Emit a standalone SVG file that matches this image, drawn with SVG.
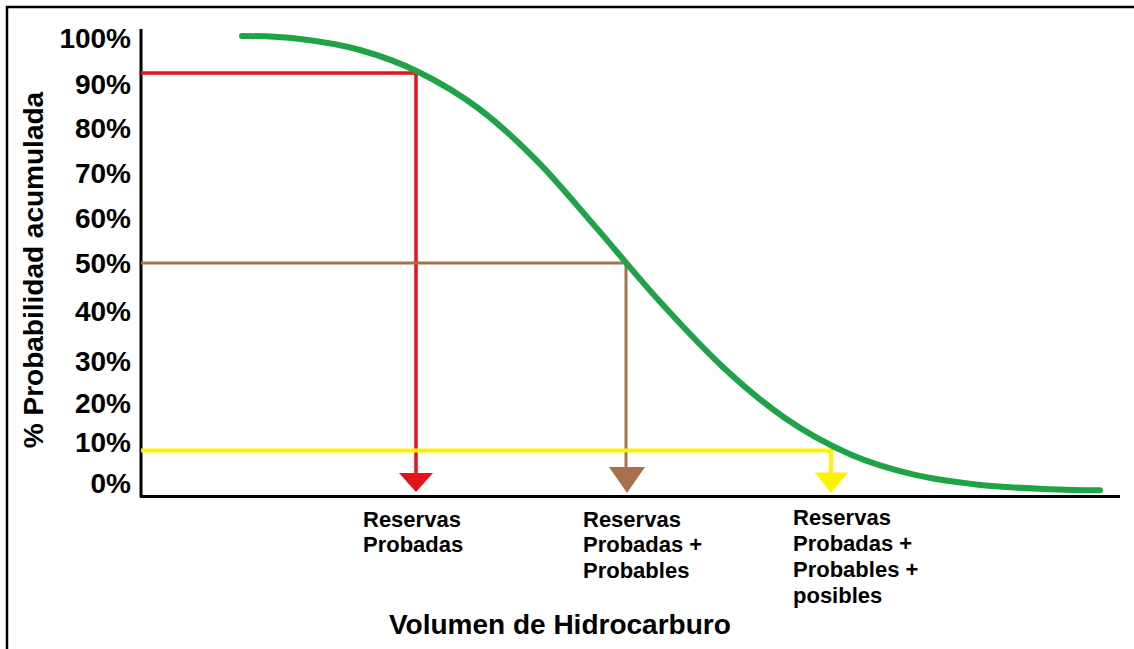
<svg xmlns="http://www.w3.org/2000/svg" width="1134" height="649" viewBox="0 0 1134 649">
<style>
.t{font-family:"Liberation Sans",Arial,sans-serif;font-weight:bold;fill:#000}
.tick{font-size:28px;text-anchor:end}
.lbl{font-size:22px}
.ax{stroke:#000;stroke-width:3;fill:none}
</style>
<rect width="1134" height="649" fill="#fff"/>
<g id="frame">
<path d="M7,649 V7 H1134" fill="none" stroke="#000" stroke-width="2.5"/>
</g>
<g id="axes">
<line class="ax" x1="141" y1="29" x2="141" y2="497"/>
<line class="ax" x1="140" y1="496.5" x2="1120" y2="496.5"/>
</g>
<g id="ticks" class="t tick">
<text x="131" y="48">100%</text>
<text x="131" y="94">90%</text>
<text x="131" y="138">80%</text>
<text x="131" y="183">70%</text>
<text x="131" y="228">60%</text>
<text x="131" y="273">50%</text>
<text x="131" y="321">40%</text>
<text x="131" y="371">30%</text>
<text x="131" y="413">20%</text>
<text x="131" y="452">10%</text>
<text x="131" y="493">0%</text>
</g>
<g id="ytitle">
<text class="t" font-size="28" text-anchor="middle" transform="translate(43,270) rotate(-90)">% Probabilidad acumulada</text>
</g>
<g id="connectors">
<g id="red">
<path d="M141,73 H416 V475" fill="none" stroke="#e5141c" stroke-width="3.5"/>
<polygon points="399,473 433,473 416,492" fill="#e5141c"/>
</g>
<g id="brown">
<path d="M141,263 H626 V470" fill="none" stroke="#a8704c" stroke-width="3"/>
<polygon points="609,467 645,467 627,493" fill="#a8704c"/>
</g>
<g id="yellow">
<path d="M141,450.5 H831 V475" fill="none" stroke="#fff200" stroke-width="4"/>
<polygon points="815,472.5 848,472.5 831,493" fill="#fff200"/>
</g>
</g>
<g id="curve">
<path d="M242,36 C262,36 280.3,36.7 300,39 C319.7,41.3 340.2,44.5 360,50 C379.8,55.5 399.3,62.5 419,72.2 C438.7,81.9 458.3,93.2 478,108 C497.7,122.8 517.3,140.9 537,160.8 C556.7,180.7 575.8,204.3 596,227.4 C616.2,250.5 637,276.5 658,299.6 C679,322.7 700.7,346.3 722,366.2 C743.3,386.1 764.7,404.1 786,418.8 C807.3,433.5 828.7,444.9 850,454.2 C871.3,463.5 892.7,469.6 914,474.7 C935.3,479.8 956.7,482.3 978,484.7 C999.3,487.1 1021.7,488 1042,488.9 C1062.3,489.8 1090,490.3 1100,490.3" fill="none" stroke="#1fa346" stroke-width="6" stroke-linecap="round" stroke-linejoin="round"/>
</g>
<g id="label1" class="t lbl">
<text x="363" y="527">Reservas</text>
<text x="363" y="552">Probadas</text>
</g>
<g id="label2" class="t lbl">
<text x="583" y="527">Reservas</text>
<text x="583" y="552">Probadas +</text>
<text x="583" y="578">Probables</text>
</g>
<g id="label3" class="t lbl">
<text x="793" y="525">Reservas</text>
<text x="793" y="551">Probadas +</text>
<text x="793" y="577">Probables +</text>
<text x="793" y="603">posibles</text>
</g>
<g id="xtitle">
<text class="t" font-size="28" x="389" y="634">Volumen de Hidrocarburo</text>
</g>
</svg>
